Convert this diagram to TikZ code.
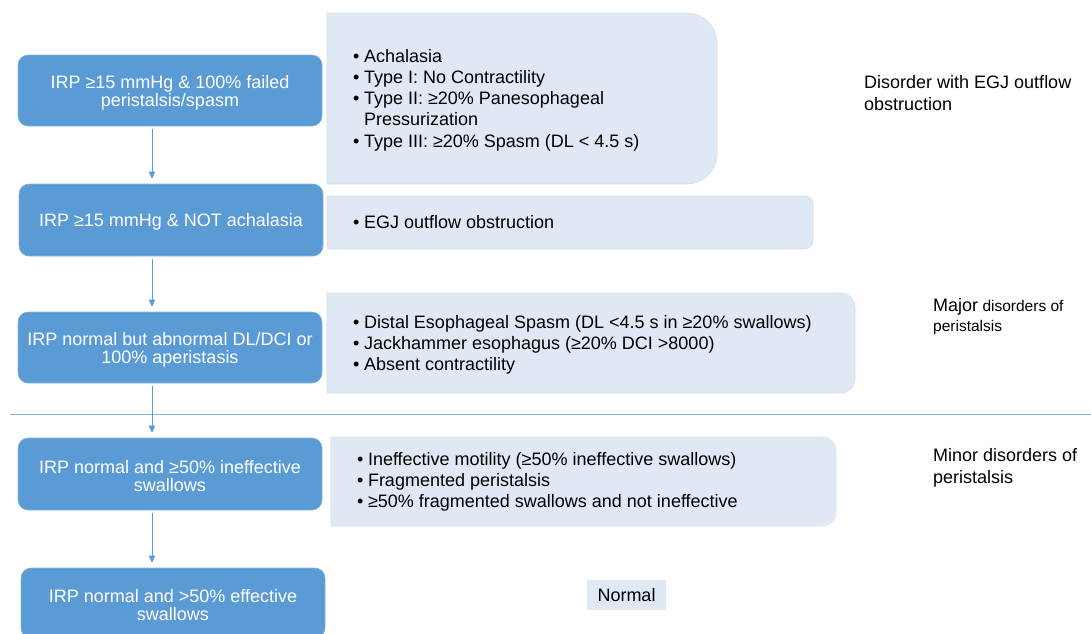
\documentclass[tikz,border=0pt]{standalone}
\usepackage{fontspec}
\setmainfont{Liberation Sans}
\usetikzlibrary{arrows.meta}
\definecolor{bluebox}{HTML}{5B9BD5}
\definecolor{lightfill}{HTML}{DEE9F5}
\definecolor{lightedge}{HTML}{D3E0EF}
\definecolor{sepline}{HTML}{85B4E0}
\newcommand{\rrpanel}[5]{%
  \path[panel] (#1,#2) -- ({#3-#5},#2) .. controls ({#3-0.4477*#5},#2) and (#3,{#2+0.4477*#5}) .. (#3,{#2+#5})
   -- (#3,{#4-#5}) .. controls (#3,{#4-0.4477*#5}) and ({#3-0.4477*#5},#4) .. ({#3-#5},#4) -- (#1,#4) -- cycle;}
\newcommand{\bul}{\textbullet\hspace{4.5pt}}
\newcommand{\lift}{\rule{0pt}{17.5pt}}
\begin{document}
\begin{tikzpicture}[x=1pt,y=-1pt,
  irpbox/.style={rectangle, rounded corners=10pt, fill=bluebox, draw=bluebox!75!white, line width=0.6pt,
    text=white, minimum width=304pt, minimum height=71pt, align=center, inner sep=0pt,
    font=\fontsize{18}{18.5}\selectfont},
  panel/.style={fill=lightfill, draw=lightedge, line width=0.6pt},
  bullets/.style={anchor=west, align=left, inner sep=0pt, font=\fontsize{18}{21.25}\selectfont},
  sidenote/.style={anchor=west, align=left, inner sep=0pt, font=\fontsize{18}{22}\selectfont},
  flow/.style={draw=bluebox, line width=0.8pt, shorten <=3pt, shorten >=5pt, -{Triangle[width=6.5pt,length=7pt]}}
]
\useasboundingbox (0,0) rectangle (1091,633);

% separator
\draw[sepline, line width=0.8pt] (10,414) -- (1091,414);

% panels
\rrpanel{327}{13}{717}{184}{30}
\rrpanel{327}{196}{813}{249}{8}
\rrpanel{327}{293}{855}{393}{14}
\rrpanel{331}{437}{836}{526}{14}

% left decision boxes
\node[irpbox] (b1) at (170,90.5) {\lift IRP ≥15 mmHg \& 100\% failed\\peristalsis/spasm};
\node[irpbox, minimum height=72pt] (b2) at (171,220) {\lift IRP ≥15 mmHg \& NOT achalasia};
\node[irpbox] (b3) at (170,347.5) {\lift IRP normal but abnormal DL/DCI or\\100\% aperistasis};
\node[irpbox, minimum height=72pt] (b4) at (170,474) {\lift IRP normal and ≥50\% ineffective\\swallows};
\node[irpbox, minimum height=70pt] (b5) at (173,603) {\lift IRP normal and >50\% effective\\swallows};

% connectors
\coordinate (ax) at (152,0);
\foreach \a/\b in {b1/b2, b2/b3, b3/b4, b4/b5}
  \draw[flow] (\a.south -| ax) -- (\b.north -| ax);

% bullet texts
\node[bullets] (t1) at (353,100) {\bul Achalasia\\\bul Type I: No Contractility\\\bul Type II: ≥20\% Panesophageal\\\phantom{\bul}Pressurization\\\bul Type III: ≥20\% Spasm (DL < 4.5 s)};
\node[bullets] (t2) at (353,222) {\bul EGJ outflow obstruction};
\node[bullets] (t3) at (353,345) {\bul Distal Esophageal Spasm (DL <4.5 s in ≥20\% swallows)\\\bul Jackhammer esophagus (≥20\% DCI >8000)\\\bul Absent contractility};
\node[bullets] (t4) at (357,482) {\bul Ineffective motility (≥50\% ineffective swallows)\\\bul Fragmented peristalsis\\\bul ≥50\% fragmented swallows and not ineffective};

% normal
\node[fill=lightfill, minimum width=79pt, minimum height=30pt, inner sep=0pt, font=\fontsize{18}{20}\selectfont] (nrm) at (626.5,595) {Normal};

% side labels
\node[sidenote] (s1) at (864,93) {Disorder with EGJ outflow\\obstruction};
\node[sidenote, font=\fontsize{15.5}{20}\selectfont] (s2) at (933,317) {{\fontsize{18}{20}\selectfont Major} disorders of\\peristalsis};
\node[sidenote] (s3) at (933,468) {Minor disorders of\\peristalsis};
\end{tikzpicture}
\end{document}
